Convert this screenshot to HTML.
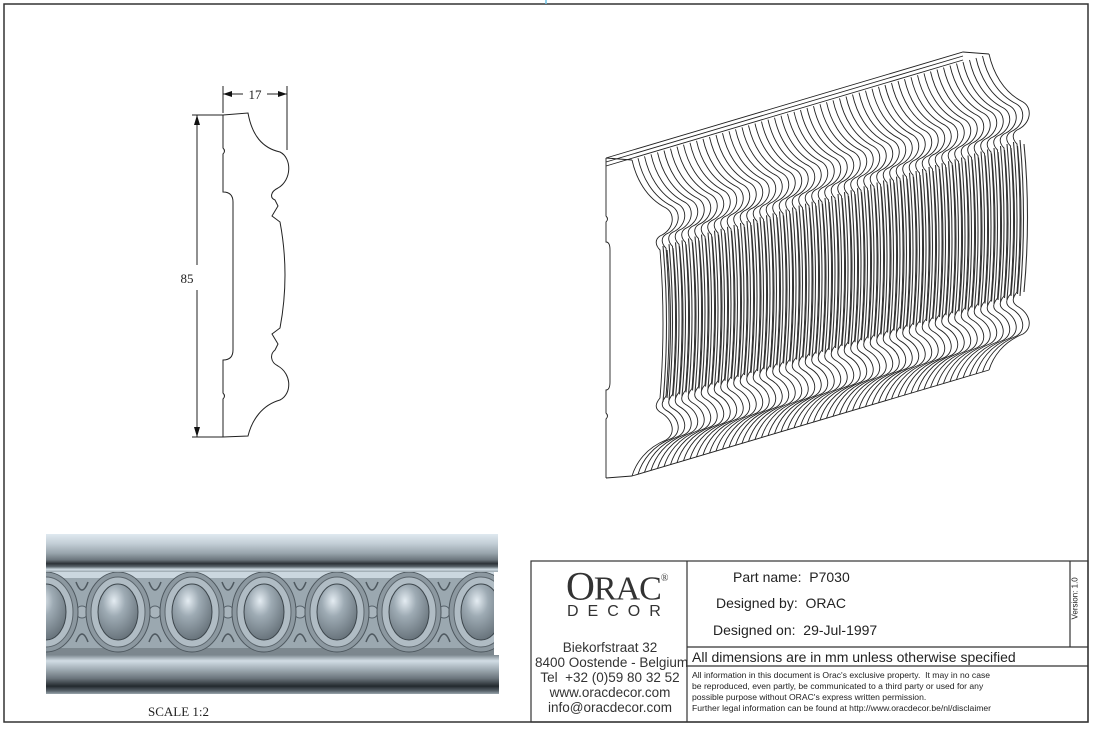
<!DOCTYPE html>
<html><head><meta charset="utf-8"><style>
html,body{margin:0;padding:0;background:#fff;}
body{width:1094px;height:730px;position:relative;overflow:hidden;font-family:"Liberation Sans",sans-serif;}
.t{position:absolute;white-space:nowrap;color:#222;}
</style></head><body>
<svg width="1094" height="730" style="position:absolute;left:0;top:0" xmlns="http://www.w3.org/2000/svg">
<defs>
<linearGradient id="tb" x1="0" y1="0" x2="0" y2="1">
<stop offset="0" stop-color="#dfe9f0"/><stop offset="0.25" stop-color="#c3ced6"/><stop offset="0.5" stop-color="#9aa6ae"/><stop offset="0.68" stop-color="#6c767d"/><stop offset="0.78" stop-color="#2c3237"/><stop offset="0.86" stop-color="#5b656c"/><stop offset="0.93" stop-color="#cfdbe3"/><stop offset="1" stop-color="#9ba7ae"/>
</linearGradient>
<linearGradient id="bb" x1="0" y1="0" x2="0" y2="1">
<stop offset="0" stop-color="#7d8990"/><stop offset="0.15" stop-color="#d2dde5"/><stop offset="0.35" stop-color="#a4b0b8"/><stop offset="0.6" stop-color="#6b757c"/><stop offset="0.8" stop-color="#23292e"/><stop offset="0.92" stop-color="#58626a"/><stop offset="1" stop-color="#9aa6ad"/>
</linearGradient>
<radialGradient id="egg" cx="0.4" cy="0.3" r="0.8">
<stop offset="0" stop-color="#e4ecf2"/><stop offset="0.35" stop-color="#9eabb4"/><stop offset="1" stop-color="#5d6870"/>
</radialGradient>
<clipPath id="band"><rect x="46" y="572" width="450" height="83"/></clipPath>
<g id="eg">
<ellipse cx="0" cy="0" rx="32" ry="40" fill="#8c98a0" stroke="#4e585f" stroke-width="1"/>
<ellipse cx="0" cy="0" rx="27" ry="35" fill="#b0bcc4" stroke="#5b656c" stroke-width="1"/>
<ellipse cx="0" cy="0" rx="20" ry="28" fill="url(#egg)" stroke="#3d464c" stroke-width="1"/>
</g>
<g id="dot"><circle cx="0" cy="0" r="6" fill="#a8b4bc" stroke="#56616a"/><path d="M-6,-30 Q0,-14 6,-30 M-6,30 Q0,14 6,30" fill="none" stroke="#4e585f" stroke-width="1.5"/></g>
<g id="pr" fill="none" stroke="#222" stroke-width="0.9">
<path d="M26,2 C30,20 40,40 60,50 C70,56 68,72 54,78 C48,82 50,88 54,92 Q60,165 54,240 C50,245 48,250 54,254 C68,262 70,276 60,282 C40,290 30,305 26,318"/>
<path d="M57,88 Q64,165 57,244 M61,92 Q68,165 61,240" stroke="#333" stroke-width="1.1"/>
</g>
</defs>
<!-- frame -->
<rect x="4" y="4" width="1084" height="718" fill="none" stroke="#333" stroke-width="1.5"/>
<line x1="546" y1="0" x2="546" y2="4" stroke="#6cc3e6" stroke-width="1.5"/>
<!-- profile -->
<g fill="none" stroke="#222" stroke-width="1">
<path d="M223,115 L248,113 C252,135 262,148 280,152 C292,158 292,180 278,188 C270,192 270,198 275,200 L278,206 L272,216 L280,222 Q290,275 280,328 L272,334 L278,344 L275,350 C270,354 270,362 278,366 C292,374 292,394 280,400 C262,405 252,420 248,436 L223,437"/>
<path d="M223,115 L223,148 q3,3 0,6 L223,192 q10,0 10,10 L233,350 q0,10 -10,10 L223,393 q3,3 0,6 L223,437"/>
<line x1="223" y1="86" x2="223" y2="113"/><line x1="287" y1="86" x2="287" y2="150"/>
<line x1="223" y1="94" x2="243" y2="94"/><line x1="267" y1="94" x2="287" y2="94"/>
<line x1="197" y1="115" x2="197" y2="265"/><line x1="197" y1="290" x2="197" y2="437"/>
<line x1="192" y1="115" x2="223" y2="115"/><line x1="192" y1="437" x2="223" y2="437"/>
</g>
<path d="M223,94 l9,-3 v6z M287,94 l-9,-3 v6z M197,115 l-3,10 h6z M197,437 l-3,-10 h6z" fill="#111"/>
<text x="255" y="99" font-family="Liberation Serif" font-size="13" text-anchor="middle" fill="#222">17</text>
<text x="187" y="283" font-family="Liberation Serif" font-size="13" text-anchor="middle" fill="#222">85</text>
<!-- 3D -->
<g transform="translate(606,158)">
<use href="#pr" transform="translate(357,-106)"/><use href="#pr" transform="translate(350.5,-104)"/><use href="#pr" transform="translate(344,-102)"/><use href="#pr" transform="translate(337.5,-100)"/><use href="#pr" transform="translate(331,-98)"/><use href="#pr" transform="translate(324.5,-96.5)"/><use href="#pr" transform="translate(318,-94.5)"/><use href="#pr" transform="translate(311.5,-92.5)"/><use href="#pr" transform="translate(305,-90.5)"/><use href="#pr" transform="translate(298.5,-88.5)"/>
<use href="#pr" transform="translate(292,-86.7)"/><use href="#pr" transform="translate(285.5,-84.8)"/><use href="#pr" transform="translate(279,-82.8)"/><use href="#pr" transform="translate(272.5,-80.9)"/><use href="#pr" transform="translate(266,-79)"/><use href="#pr" transform="translate(259.5,-77)"/><use href="#pr" transform="translate(253,-75)"/><use href="#pr" transform="translate(246.5,-73.2)"/><use href="#pr" transform="translate(240,-71.3)"/><use href="#pr" transform="translate(233.5,-69.3)"/>
<use href="#pr" transform="translate(227,-67.4)"/><use href="#pr" transform="translate(220.5,-65.5)"/><use href="#pr" transform="translate(214,-63.5)"/><use href="#pr" transform="translate(207.5,-61.6)"/><use href="#pr" transform="translate(201,-59.7)"/><use href="#pr" transform="translate(194.5,-57.8)"/><use href="#pr" transform="translate(188,-55.8)"/><use href="#pr" transform="translate(181.5,-53.9)"/><use href="#pr" transform="translate(175,-52)"/><use href="#pr" transform="translate(168.5,-50)"/>
<use href="#pr" transform="translate(162,-48.1)"/><use href="#pr" transform="translate(155.5,-46.2)"/><use href="#pr" transform="translate(149,-44.3)"/><use href="#pr" transform="translate(142.5,-42.3)"/><use href="#pr" transform="translate(136,-40.4)"/><use href="#pr" transform="translate(129.5,-38.5)"/><use href="#pr" transform="translate(123,-36.5)"/><use href="#pr" transform="translate(116.5,-34.6)"/><use href="#pr" transform="translate(110,-32.7)"/><use href="#pr" transform="translate(103.5,-30.7)"/>
<use href="#pr" transform="translate(97,-28.8)"/><use href="#pr" transform="translate(90.5,-26.9)"/><use href="#pr" transform="translate(84,-25)"/><use href="#pr" transform="translate(77.5,-23)"/><use href="#pr" transform="translate(71,-21.1)"/><use href="#pr" transform="translate(64.5,-19.2)"/><use href="#pr" transform="translate(58,-17.2)"/><use href="#pr" transform="translate(51.5,-15.3)"/><use href="#pr" transform="translate(45,-13.4)"/><use href="#pr" transform="translate(38.5,-11.4)"/>
<use href="#pr" transform="translate(32,-9.5)"/><use href="#pr" transform="translate(25.5,-7.6)"/><use href="#pr" transform="translate(19,-5.7)"/><use href="#pr" transform="translate(12.5,-3.7)"/><use href="#pr" transform="translate(6,-1.8)"/><use href="#pr"/>
<g fill="none" stroke="#222" stroke-width="0.9">
<path d="M0,0 L357,-106 L383,-104 M0,0 L26,2 M0,320 L26,318 M26,318 L383,212"/>
<path d="M0,0 L0,58 q3,3 0,6 L0,84 q4,0 4,8 L4,224 q0,8 -4,8 L0,255 q3,3 0,6 L0,320"/>
<path d="M0,4 L357,-102 M0,8 L357,-98"/>
</g>
</g>
<!-- render -->
<rect x="46" y="534" width="452" height="38" fill="url(#tb)"/>
<rect x="46" y="572" width="450" height="83" fill="#9ba8b0"/>
<g clip-path="url(#band)">
<rect x="46" y="572" width="450" height="6" fill="#cbd7df"/>
<rect x="46" y="648" width="450" height="7" fill="#7c878e"/>
<g transform="translate(0,612)">
<use href="#dot" x="82"/><use href="#dot" x="155"/><use href="#dot" x="228"/><use href="#dot" x="300"/><use href="#dot" x="372"/><use href="#dot" x="444"/>
<use href="#eg" x="46"/><use href="#eg" x="118"/><use href="#eg" x="192"/><use href="#eg" x="264"/><use href="#eg" x="337"/><use href="#eg" x="409"/><use href="#eg" x="481"/>
</g>
</g>
<rect x="46" y="655" width="453" height="39" fill="url(#bb)"/>
<rect x="494" y="572" width="12" height="83" fill="#fff"/>
<text x="148" y="716" font-family="Liberation Serif" font-size="13" fill="#222">SCALE  1:2</text>
<!-- title block -->
<g stroke="#333" stroke-width="1.2" fill="none">
<rect x="531" y="561" width="557" height="161"/>
<line x1="687" y1="561" x2="687" y2="722"/>
<line x1="1070" y1="561" x2="1070" y2="647"/>
<line x1="687" y1="647" x2="1088" y2="647"/>
<line x1="687" y1="666" x2="1088" y2="666"/>
</g>
</svg>
<div class="t" style="left:566px;top:565px;font-family:'Liberation Serif',serif;font-size:34px;line-height:40px;color:#333;letter-spacing:-1px"><span style="font-size:40px">O</span>RAC<sup style="font-size:10px;position:relative;top:-6px">®</sup></div>
<div class="t" style="left:567px;top:603px;font-size:16px;letter-spacing:9px;color:#333">DECOR</div>
<div class="t" style="left:535px;top:640px;width:150px;text-align:center;font-size:13.5px;line-height:15px;color:#333">Biekorfstraat 32<br>8400 Oostende - Belgium<br>Tel &nbsp;+32 (0)59 80 32 52<br>www.oracdecor.com<br>info@oracdecor.com</div>
<div class="t" style="left:733px;top:569px;font-size:14px">Part name:&nbsp; P7030</div>
<div class="t" style="left:716px;top:595px;font-size:14px">Designed by:&nbsp; ORAC</div>
<div class="t" style="left:713px;top:622px;font-size:14px">Designed on:&nbsp; 29-Jul-1997</div>
<div class="t" style="left:692px;top:649px;font-size:14px">All dimensions are in mm unless otherwise specified</div>
<div class="t" style="left:692px;top:670px;font-size:8.6px;line-height:11px">All information in this document is Orac's exclusive property.&nbsp; It may in no case<br>be reproduced, even partly, be communicated to a third party or used for any<br>possible purpose without ORAC's express written permission.<br>Further legal information can be found at http://www.oracdecor.be/nl/disclaimer</div>
<div class="t" style="left:1058px;top:598px;font-size:8px;transform:rotate(-90deg);transform-origin:center;width:34px;text-align:center">Version: 1.0</div>
</body></html>
